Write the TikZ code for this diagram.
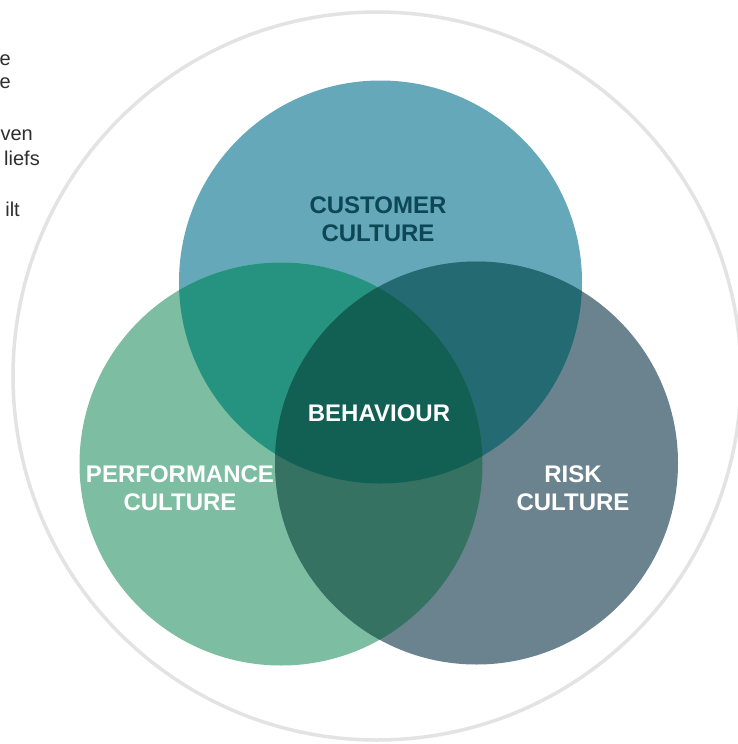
\documentclass[tikz,border=0pt]{standalone}
\usepackage{fontspec}
\setmainfont{Liberation Sans}
\usetikzlibrary{positioning}

\definecolor{ringgray}{HTML}{E3E3E3}
\definecolor{custblue}{HTML}{64A8BA}
\definecolor{perfgreen}{HTML}{7DBDA2}
\definecolor{riskslate}{HTML}{6A838E}
\definecolor{custperf}{HTML}{25937F}
\definecolor{custrisk}{HTML}{236A73}
\definecolor{perfrisk}{HTML}{357262}
\definecolor{behav}{HTML}{125F53}
\definecolor{custtext}{HTML}{0D4654}
\definecolor{bodytext}{HTML}{2E2E2E}

\begin{document}
\begin{tikzpicture}[
			x=1pt, y=-1pt,
			venn/.style={circle, minimum size=403pt, inner sep=0pt},
			culture/.style={font=\fontsize{24}{28}\selectfont\bfseries, align=center, text=white},
			snippet/.style={font=\fontsize{20}{25}\selectfont, text=bodytext, anchor=base east, inner sep=0pt}
		]
		\useasboundingbox (0,0) rectangle (738,744);
		\fill[white] (0,0) rectangle (738,744);
		\draw[ringgray, line width=3.5pt] (377,376) circle (364pt);

		\node[venn, fill=custblue] (customer) at (380.5,282) {};
		\node[venn, fill=perfgreen] (performance) at (281,464) {};
		\node[venn, fill=riskslate] (risk) at (476.5,463) {};

		\begin{scope}
			\clip (customer.center) circle (201.5pt);
			\fill[custperf] (performance.center) circle (201.5pt);
			\fill[custrisk] (risk.center) circle (201.5pt);
		\end{scope}
		\begin{scope}
			\clip (performance.center) circle (201.5pt);
			\fill[perfrisk] (risk.center) circle (201.5pt);
			\clip (risk.center) circle (201.5pt);
			\fill[behav] (customer.center) circle (201.5pt);
		\end{scope}

		\node[culture, text=custtext] (customerlabel) at (378,219) {CUSTOMER\\CULTURE};
		\node[culture] (behaviour) at (379,413) {BEHAVIOUR};
		\node[culture] (performancelabel) at (180,488) {PERFORMANCE\\CULTURE};
		\node[culture] (risklabel) at (573,488) {RISK\\CULTURE};

		\node[snippet] (line1) at (11,65) {e};
		\node[snippet] (line2) at (11,88) {e};
		\node[snippet] (line3) at (33,140) {ven};
		\node[snippet] (line4) at (40,165) {liefs};
		\node[snippet] (line5) at (20,216) {ilt};
	\end{tikzpicture}
\end{document}
